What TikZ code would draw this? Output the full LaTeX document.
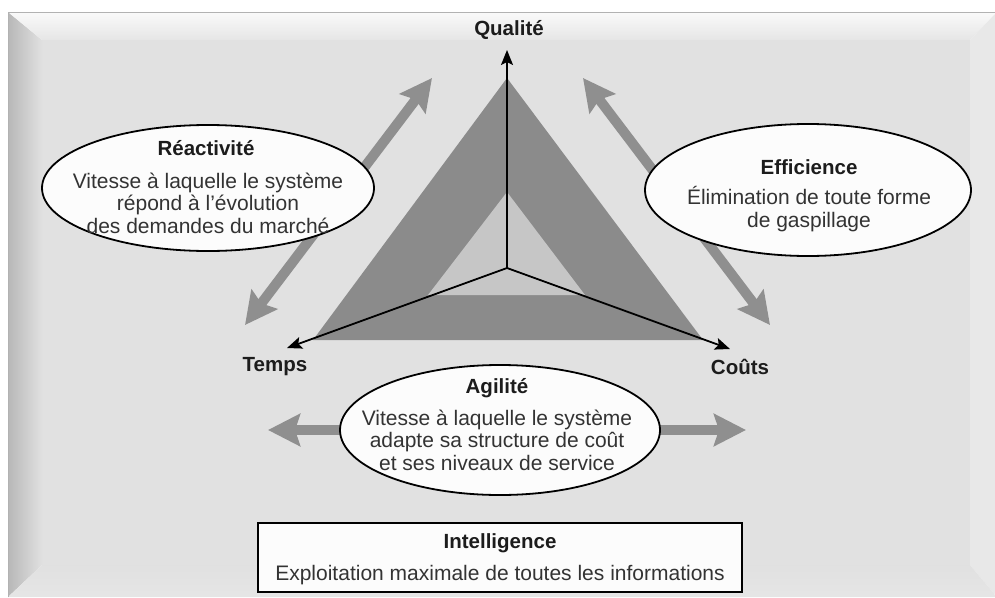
\documentclass[tikz,border=0pt]{standalone}
\usepackage{fontspec}
\setmainfont{Liberation Sans}
\usetikzlibrary{arrows.meta,shapes.geometric}

\definecolor{panelgray}{HTML}{E1E1E1}
\definecolor{bandgray}{HTML}{8B8B8B}
\definecolor{coregray}{HTML}{C6C6C6}
\definecolor{flowgray}{HTML}{8F8F8F}
\definecolor{inkdark}{HTML}{1C1C1C}

\tikzset{
  bodytext/.style={font=\fontsize{21}{22.5}\selectfont, text=inkdark!90, align=center, inner sep=0pt},
  headtext/.style={font=\bfseries\fontsize{20.5}{22}\selectfont, text=inkdark, inner sep=0pt},
  axislabel/.style={font=\bfseries\fontsize{20.5}{22}\selectfont, text=inkdark, inner sep=0pt},
  bubble/.style={ellipse, draw=black, line width=1.8pt, fill=white!98!gray, inner sep=0pt},
  axis/.style={draw=black, line width=1.8pt, -{Stealth[length=15pt,width=12pt,inset=3pt]}},
  flow/.style={draw=flowgray, line width=10pt,
    {Stealth[length=32pt,width=32pt,inset=5pt]}-{Stealth[length=32pt,width=32pt,inset=5pt]}},
}

\begin{document}
\begin{tikzpicture}[x=1pt,y=-1pt]
\useasboundingbox (0,0) rectangle (995,597);
\fill[white] (0,0) rectangle (995,597);

% bevelled frame
\fill[panelgray] (42,40) rectangle (970,565);
\shade[left color=black!28, right color=black!12] (8,12) -- (42,40) -- (42,565) -- (8,597) -- cycle;
\shade[top color=white!98!black, bottom color=black!10] (8,12) -- (997,12) -- (970,40) -- (42,40) -- cycle;
\fill[black!9] (997,12) -- (997,597) -- (970,565) -- (970,40) -- cycle;
\shade[top color=black!12, bottom color=black!10] (8,597) -- (42,565) -- (970,565) -- (997,597) -- cycle;
\draw[black!30, line width=0.8pt] (8,597) -- (8,12) -- (997,12);

% triangle bands
\fill[bandgray] (507,78) -- (313,340) -- (703,340) -- cycle;
\fill[coregray] (507,192) -- (428,295) -- (585,295) -- cycle;

% axes
\coordinate (O) at (507,268);
\coordinate (qTip) at (507,50);
\coordinate (tTip) at (287,348);
\coordinate (cTip) at (730,349);
\draw[axis] (O) -- (qTip);
\draw[axis] (O) -- (tTip);
\draw[axis] (O) -- (cTip);

\node[axislabel] (qual) at (509,30) {Qualité};
\node[axislabel] (temps) at (275,367) {Temps};
\node[axislabel] (couts) at (740,367) {Coûts};

% grey double arrows
\coordinate (rLow) at (245,325);
\coordinate (rHigh) at (432,78);
\coordinate (eHigh) at (583,78);
\coordinate (eLow) at (770,325);
\coordinate (aLeft) at (268,430);
\coordinate (aRight) at (746,430);
\draw[flow] (rLow) -- (rHigh);
\draw[flow] (eHigh) -- (eLow);
\draw[flow] (aLeft) -- (aRight);

% Réactivité
\node[bubble, minimum width=332pt, minimum height=126pt] (reac) at (208,188) {};
\node[headtext] (reacT) at (206,148) {Réactivité};
\node[bodytext] (reacB) at (208,203) {Vitesse à laquelle le système\\répond à l’évolution\\des demandes du marché};

% Efficience
\node[bubble, minimum width=326pt, minimum height=132pt] (effi) at (808,190) {};
\node[headtext] (effiT) at (809,167) {Efficience};
\node[bodytext] (effiB) at (809,209) {Élimination de toute forme\\de gaspillage};

% Agilité
\node[bubble, minimum width=320pt, minimum height=130pt] (agil) at (500,430) {};
\node[headtext] (agilT) at (497,388) {Agilité};
\node[bodytext] (agilB) at (497,440) {Vitesse à laquelle le système\\adapte sa structure de coût\\et ses niveaux de service};

% Intelligence
\node[draw=black, line width=2pt, fill=white!98!gray, minimum width=484pt, minimum height=69pt, inner sep=0pt] (intel) at (500,557.5) {};
\node[headtext] (intelT) at (500,543) {Intelligence};
\node[bodytext] (intelB) at (500,575) {Exploitation maximale de toutes les informations};
\end{tikzpicture}
\end{document}
